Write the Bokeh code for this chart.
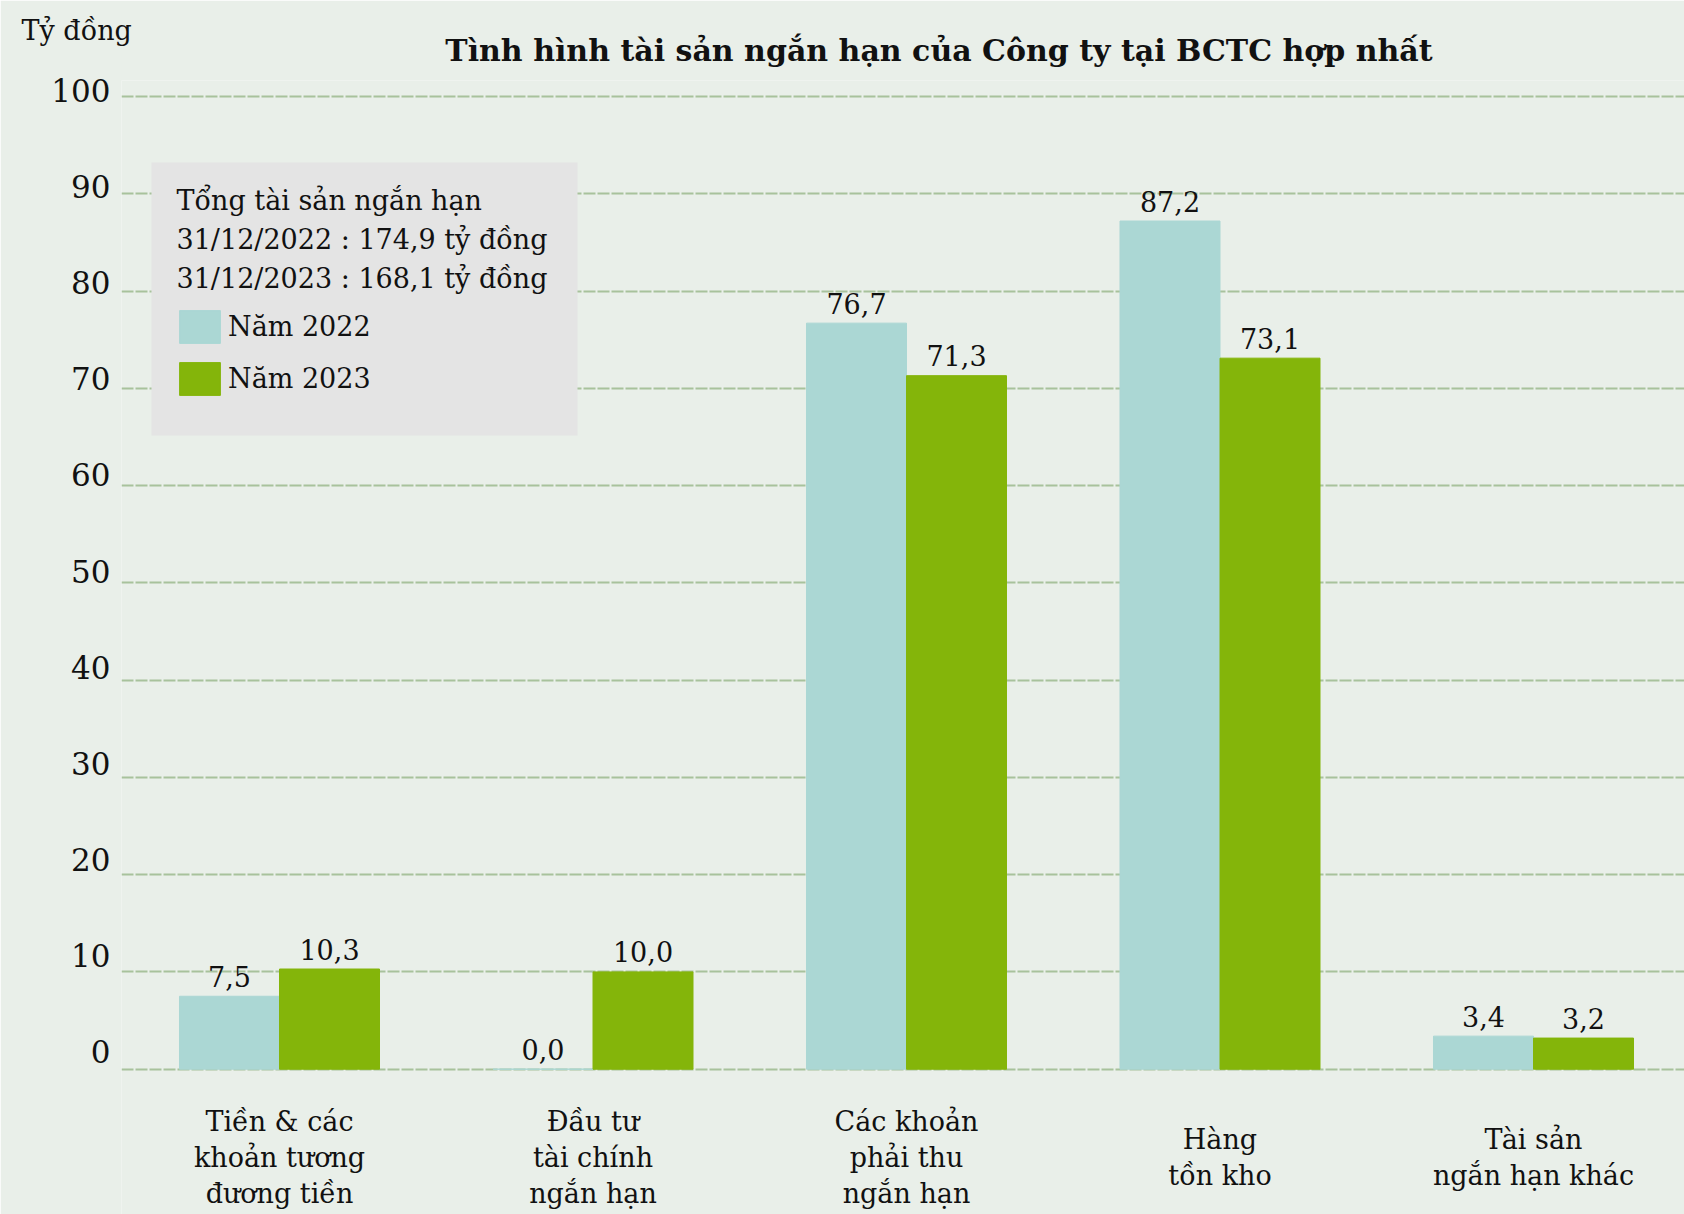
from bokeh.plotting import figure
from bokeh.models import (ColumnDataSource, Range1d, LinearAxis, FixedTicker, Label,
                          BoxAnnotation, Legend, LegendItem)
from bokeh.embed import file_html
from bokeh.resources import INLINE

# ---------------- data ----------------
categories = ["Tiền & các\nkhoản tương\nđương tiền",
              "Đầu tư\ntài chính\nngắn hạn",
              "Các khoản\nphải thu\nngắn hạn",
              "Hàng\ntồn kho",
              "Tài sản\nngắn hạn khác"]
values_2022 = [7.5, 0.0, 76.7, 87.2, 3.4]
values_2023 = [10.3, 10.0, 71.3, 73.1, 3.2]
series_names = ["Năm 2022", "Năm 2023"]
y_ticks = [0, 10, 20, 30, 40, 50, 60, 70, 80, 90, 100]
title_text = "Tình hình tài sản ngắn hạn của Công ty tại BCTC hợp nhất"
unit_text = "Tỷ đồng"
summary_lines = ["Tổng tài sản ngắn hạn",
                 "31/12/2022 : 174,9 tỷ đồng",
                 "31/12/2023 : 168,1 tỷ đồng"]

# ---------------- style ----------------
FONT = "DejaVu Serif"
BG = "#E9EFE9"
C2022 = "#ABD7D4"
C2023 = "#84B50A"
GRID = "#A8C29C"
BOX = "#E4E4E4"
INK = "#111111"

W, H = 1684, 1214
LEFT, TOP = 121, 80

# page-pixel layout helpers (figure drawn from page (0,0))
FR_L, FR_R, FR_T, FR_B = LEFT, W, TOP, H
X0_PX, X_STEP = 279.0, 313.5          # centre of first category, px per category
Y0_PX, Y_STEP = 1068.7, 9.727          # value 0 position, px per unit

def dx(px):
    return (px - X0_PX) / X_STEP

def dy(py):
    return (Y0_PX - py) / Y_STEP

p = figure(width=W, height=H, output_backend="svg", toolbar_location=None,
           x_range=Range1d(dx(FR_L), dx(FR_R)), y_range=Range1d(dy(FR_B), dy(FR_T)),
           min_border_left=LEFT, min_border_right=0, min_border_top=TOP, min_border_bottom=0,
           background_fill_color=BG, border_fill_color=BG, outline_line_color=None)
p.xaxis.visible = False
p.yaxis.visible = False
p.xgrid.visible = False
p.ygrid.ticker = FixedTicker(ticks=y_ticks)
p.ygrid.grid_line_color = GRID
p.ygrid.grid_line_width = 2
p.ygrid.grid_line_dash = "12 2"

# tick-label axis (labels in the source sit on their own slightly different scale)
L_MID_PX, L_STEP = 570.5, 9.611
p.extra_y_ranges = {"lbl": Range1d(50 - (FR_B - L_MID_PX) / L_STEP, 50 + (L_MID_PX - FR_T) / L_STEP)}
yax = LinearAxis(y_range_name="lbl", ticker=FixedTicker(ticks=y_ticks))
yax.axis_line_color = None
yax.major_tick_line_color = None
yax.minor_tick_line_color = None
yax.major_label_text_font = FONT
yax.major_label_text_font_size = "31px"
yax.major_label_text_color = INK
yax.major_label_standoff = 5
p.add_layout(yax, "left")

n = len(categories)
bw = 0.319
src = ColumnDataSource(dict(
    xc=list(range(n)),
    x22=[i - bw / 2 for i in range(n)],
    x23=[i + bw / 2 for i in range(n)],
    v22=values_2022, v23=values_2023,
    t22=[f"{v:.1f}".replace(".", ",") for v in values_2022],
    t23=[f"{v:.1f}".replace(".", ",") for v in values_2023],
    cat=categories,
))

r22 = p.vbar(x="x22", top="v22", bottom=0, width=bw, source=src,
             fill_color=C2022, line_color=C2022, line_width=1)
r23 = p.vbar(x="x23", top="v23", bottom=0, width=bw, source=src,
             fill_color=C2023, line_color=C2023, line_width=1)

lab_kw = dict(text_font={"value": FONT}, text_font_size="27px", text_color=INK,
              text_align="center", text_baseline="alphabetic", y_offset=-20, source=src)
p.text(x="x22", y="v22", text="t22", **lab_kw)
p.text(x="x23", y="v23", text="t23", **lab_kw)

# category labels
p.text(x="xc", y=dy(1157), text="cat", source=src, text_font={"value": FONT},
       text_font_size="27px", text_color=INK, text_align="center",
       text_baseline="middle", text_line_height=1.16)

# title and unit (placed in the top panel so they are not clipped to the frame)
p.add_layout(Label(x=dx(938.5), y=dy(50), text=title_text, text_font=FONT,
                   text_font_size="30px", text_font_style="bold", text_color=INK,
                   text_align="center", text_baseline="alphabetic"), "above")
p.add_layout(Label(x=dx(21), y=dy(30), text=unit_text, text_font=FONT,
                   text_font_size="27px", text_color=INK,
                   text_align="left", text_baseline="alphabetic"), "above")

# summary box
p.add_layout(BoxAnnotation(left=dx(151), right=dx(577), top=dy(162), bottom=dy(435),
                           fill_color=BOX, fill_alpha=1, line_color=None, level="underlay"))
for line, base in zip(summary_lines, [200, 239, 278]):
    p.add_layout(Label(x=dx(176), y=dy(base), text=line, text_font=FONT,
                       text_font_size="27px", text_color=INK,
                       text_align="left", text_baseline="alphabetic"))

legend = Legend(items=[LegendItem(label=series_names[0], renderers=[r22]),
                       LegendItem(label=series_names[1], renderers=[r23])],
                location=(174 - FR_L, FR_B - 399))
legend.glyph_width = 51
legend.glyph_height = 41
legend.label_height = 41
legend.spacing = 11
legend.padding = 0
legend.margin = 0
legend.label_standoff = 3
legend.label_text_font = FONT
legend.label_text_font_size = "27px"
legend.label_text_color = INK
legend.background_fill_alpha = 0
legend.border_line_alpha = 0
p.add_layout(legend)

open("out.html", "w").write(file_html(p, INLINE))
